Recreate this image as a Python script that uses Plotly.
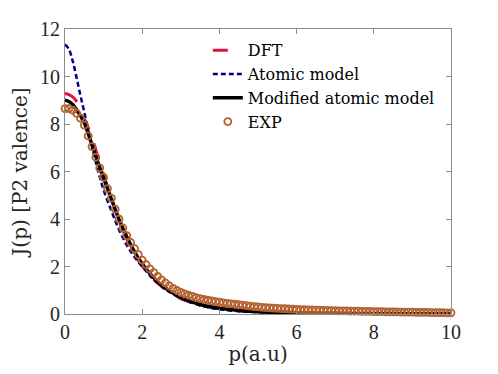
import plotly.graph_objects as go

# EXP data (p on 0.1 grid)
p_exp = [round(0.1 * i, 1) for i in range(101)]
j_exp = [8.65, 8.65, 8.58, 8.45, 8.25, 7.95, 7.5, 7.05, 6.6, 6.15,
         5.75, 5.28, 4.88, 4.42, 4.0, 3.62, 3.3, 3.02, 2.75, 2.5,
         2.27, 2.08, 1.9, 1.74, 1.58, 1.44, 1.31, 1.19, 1.08, 0.99,
         0.91, 0.85, 0.79, 0.74, 0.69, 0.65, 0.61, 0.58, 0.55, 0.52,
         0.5, 0.47, 0.45, 0.43, 0.41, 0.39, 0.37, 0.35, 0.33, 0.31,
         0.3, 0.28, 0.27, 0.26, 0.25, 0.24, 0.23, 0.22, 0.21, 0.2,
         0.19, 0.18, 0.18, 0.17, 0.17, 0.16, 0.16, 0.15, 0.15, 0.14,
         0.14, 0.13, 0.13, 0.13, 0.12, 0.12, 0.12, 0.11, 0.11, 0.11,
         0.1, 0.1, 0.1, 0.09, 0.09, 0.09, 0.09, 0.08, 0.08, 0.08,
         0.08, 0.07, 0.07, 0.07, 0.07, 0.06, 0.06, 0.06, 0.06, 0.05,
         0.05]

# Theory curves
p_line = [0, 0.1, 0.2, 0.3, 0.4, 0.5, 0.6, 0.7, 0.8, 0.9, 1.0, 1.2, 1.4, 1.6, 1.8,
          2.0, 2.2, 2.4, 2.6, 2.8, 3.0, 3.5, 4.0, 4.5, 5.0, 5.5, 6, 7, 8, 9, 10]
j_dft = [9.28, 9.24, 9.14, 8.95, 8.62, 8.22, 7.85, 7.42, 6.9, 6.4, 5.88, 4.88, 3.95, 3.15, 2.5,
         2.02, 1.62, 1.3, 1.04, 0.83, 0.65, 0.37, 0.22, 0.14, 0.09, 0.06, 0.04, 0.02, 0.012, 0.008, 0.005]
j_atomic = [11.35, 11.15, 10.65, 9.95, 9.2, 8.5, 7.75, 7.05, 6.38, 5.77, 5.22, 4.35, 3.55, 2.9, 2.4,
            2.0, 1.62, 1.3, 1.04, 0.84, 0.66, 0.36, 0.2, 0.12, 0.08, 0.05, 0.035, 0.02, 0.01, 0.008, 0.005]
j_mod = [9.0, 8.95, 8.82, 8.6, 8.35, 8.05, 7.6, 7.12, 6.63, 6.17, 5.72, 4.85, 3.98, 3.25, 2.62,
         2.12, 1.7, 1.36, 1.1, 0.88, 0.7, 0.4, 0.24, 0.15, 0.1, 0.07, 0.05, 0.03, 0.02, 0.015, 0.01]

x_ticks = [0, 2, 4, 6, 8, 10]
y_ticks = [0, 2, 4, 6, 8, 10, 12]

TICK_FONT = "'Liberation Serif', 'DejaVu Serif', serif"
TEXT_FONT = "'DejaVu Serif', 'Liberation Serif', serif"

fig = go.Figure()
fig.add_trace(go.Scatter(x=p_line, y=j_dft, mode="lines", name="DFT", line_shape="spline",
                         line=dict(color="#dc143c", width=3, dash="15px,15px")))
fig.add_trace(go.Scatter(x=p_line, y=j_atomic, mode="lines", name="Atomic model", line_shape="spline",
                         line=dict(color="#00008b", width=2.5, dash="5px,3px")))
fig.add_trace(go.Scatter(x=p_line, y=j_mod, mode="lines", name="Modified atomic model", line_shape="spline",
                         line=dict(color="black", width=3.5)))
fig.add_trace(go.Scatter(x=p_exp, y=j_exp, mode="markers", name="EXP", cliponaxis=False,
                         marker=dict(symbol="circle-open", size=7, color="#b3602e",
                                     line=dict(width=1.8, color="#b3602e"))))

axis_common = dict(showgrid=False, zeroline=False, showline=True, linecolor="#8c8c8c",
                   linewidth=1, mirror="allticks", ticks="inside", ticklen=5, automargin=False,
                   tickcolor="#8c8c8c", tickfont=dict(family=TICK_FONT, size=20, color="#262626"))

fig.update_layout(
    width=498, height=374,
    margin=dict(l=57, r=55, t=21, b=68, autoexpand=False),
    paper_bgcolor="white", plot_bgcolor="white",
    font=dict(family=TEXT_FONT, color="#262626"),
    xaxis=dict(range=[0, 10], tickvals=x_ticks,
               title=dict(text="p(a.u)", font=dict(family=TEXT_FONT, size=20, color="#262626"), standoff=4),
               **axis_common),
    yaxis=dict(range=[0, 12], tickvals=y_ticks,
               title=dict(text="J(p) [P2 valence]", font=dict(family=TEXT_FONT, size=20, color="#262626"), standoff=10),
               **axis_common),
    legend=dict(x=0.37, y=0.985, xanchor="left", yanchor="top", bgcolor="rgba(0,0,0,0)",
                font=dict(family=TEXT_FONT, size=16, color="black"), tracegroupgap=0,
                itemwidth=30),
    showlegend=True,
)

fig.write_html("out.html")
